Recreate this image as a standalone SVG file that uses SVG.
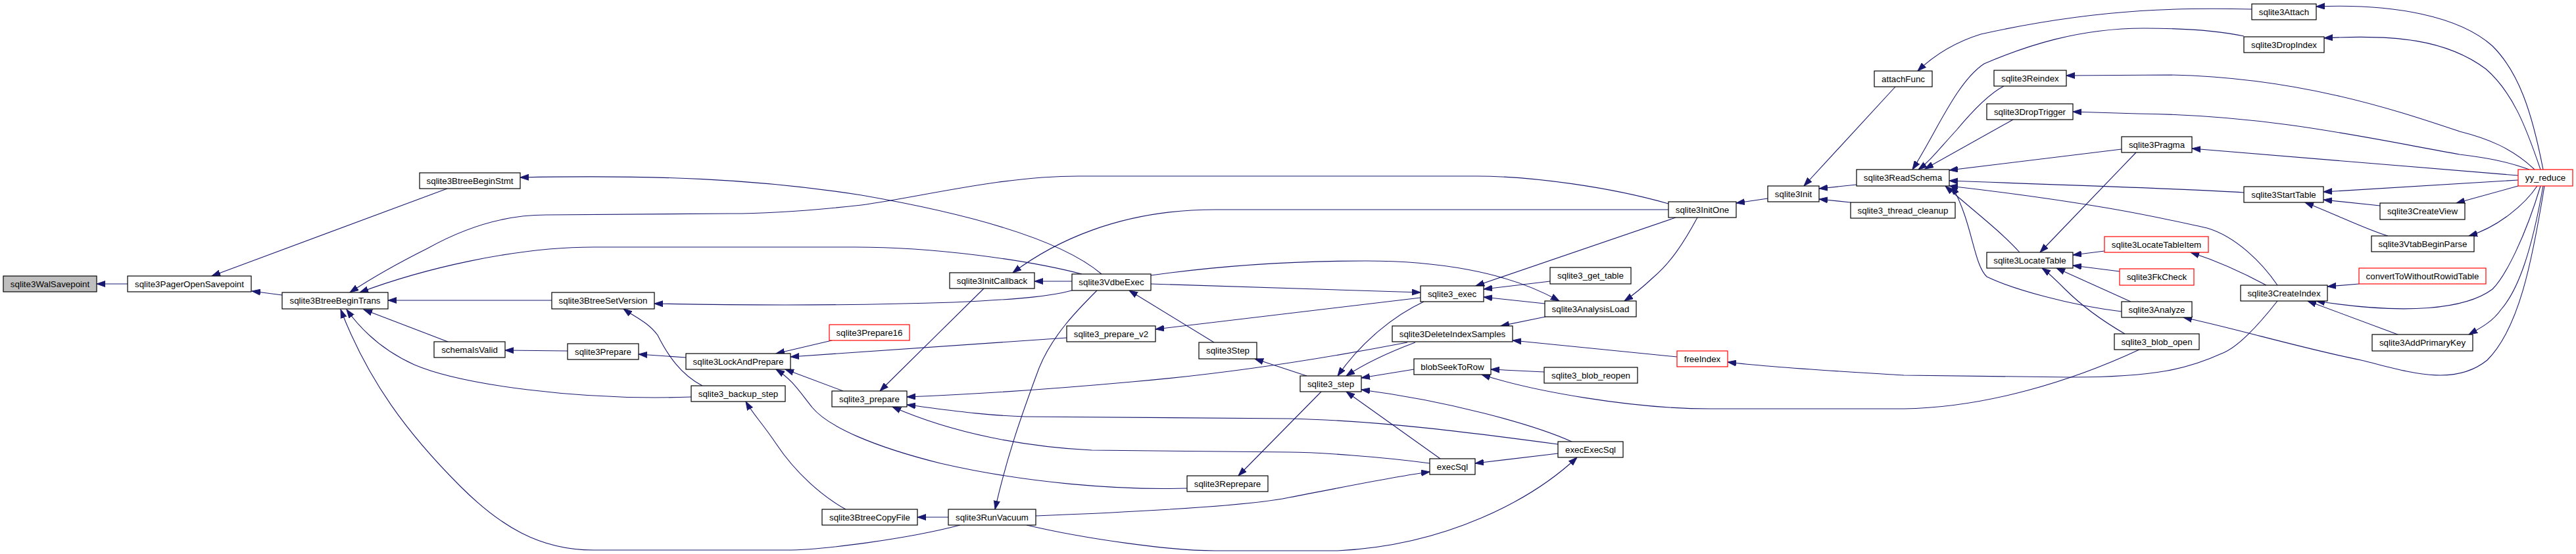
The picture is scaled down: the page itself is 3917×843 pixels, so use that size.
<svg xmlns="http://www.w3.org/2000/svg" width="3917" height="843" viewBox="0 0 3917 843">
<style>
.n rect{fill:#ffffff;stroke:#000000;stroke-width:1.2}
.n.r rect{stroke:#ff0000}
.n.g rect{fill:#bfbfbf}
.n text{font-family:"Liberation Sans",Arial,Helvetica,sans-serif;font-size:13.33px;text-anchor:middle;fill:#000000}
.e path{fill:none;stroke:#191970;stroke-width:1.1;marker-end:url(#arr)}
</style>
<defs>
<marker id="arr" markerUnits="userSpaceOnUse" markerWidth="14" markerHeight="10" refX="13" refY="5" orient="auto">
<path d="M0,0.5 L13,5 L0,9.5 z" fill="#191970" stroke="#191970" stroke-width="1"/>
</marker>
</defs>
<rect width="3917" height="843" fill="#ffffff"/>
<g id="edges" class="e">
<path d="M194,432 L147,432"/>
<path d="M429,449 L383,443"/>
<path d="M680,287 L322,420"/>
<path d="M839,457 L590,457"/>
<path d="M681,520 L553,471"/>
<path d="M1051,604 C880,610 700,585 630,555 C590,537 555,510 527,471"/>
<path d="M1460,799 C1380,820 1250,837 1197,837 L902,837 C820,837 760,800 700,740 C620,660 560,580 518,471"/>
<path d="M1675,417 C1620,370 1500,330 1310,297 C1150,272 1000,266 791,270"/>
<path d="M2537,310 C2450,285 2330,268 2245,268 L1640,268 C1520,268 1400,300 1310,312 C1220,322 1150,325 1110,325 L830,327 C760,327 700,350 650,378 C610,398 570,420 532,445"/>
<path d="M1645,417 C1560,395 1420,376 1300,376 L903,376 C780,376 640,410 547,445"/>
<path d="M2537,319 L1847,319 C1700,319 1600,370 1540,415"/>
<path d="M1750,419 C1850,405 1960,397 2076,397 C2180,397 2290,412 2371,458"/>
<path d="M2548,331 L2244,435"/>
<path d="M2581,331 C2560,370 2540,400 2514,422 C2500,435 2485,448 2470,458"/>
<path d="M1750,432 L2160,445"/>
<path d="M2357,428 L2256,440"/>
<path d="M2349,462 L2256,452"/>
<path d="M2160,453 L1757,501"/>
<path d="M2165,459 C2120,480 2070,520 2034,572"/>
<path d="M2152,521 C2120,533 2080,550 2047,572"/>
<path d="M2140,521 C2000,548 1850,570 1721,581 C1600,592 1480,600 1379,604"/>
<path d="M1987,572 L1908,546"/>
<path d="M2150,562 L2070,575"/>
<path d="M2348,566 L2267,562"/>
<path d="M3253,532 C3150,580 3020,620 2895,622 L2600,622 C2480,622 2330,595 2253,570"/>
<path d="M2550,543 L2300,518"/>
<path d="M2350,482 L2282,496"/>
<path d="M2390,672 C2330,645 2200,610 2070,593"/>
<path d="M2190,698 L2047,596"/>
<path d="M2369,690 L2243,705"/>
<path d="M2369,676 C2250,660 2100,640 1960,637 L1560,634 C1490,632 1430,622 1379,616"/>
<path d="M2174,705 C2100,695 2000,688 1960,688 L1660,685 C1560,680 1450,660 1357,619"/>
<path d="M1575,785 C1700,780 1900,770 1960,757 C2050,740 2120,725 2174,718"/>
<path d="M1561,799 C1650,820 1780,838 1847,838 L2034,838 C2200,830 2330,760 2398,696"/>
<path d="M2009,596 L1883,724"/>
<path d="M1805,743 C1700,746 1560,735 1430,705 C1330,680 1260,650 1235,620 C1215,595 1205,578 1180,562"/>
<path d="M1282,595 L1194,562"/>
<path d="M1265,518 L1180,538"/>
<path d="M1622,514 L1202,543"/>
<path d="M1043,544 L971,539"/>
<path d="M863,534 L768,533"/>
<path d="M1630,442 C1600,450 1560,455 1450,460 C1300,465 1150,465 995,462"/>
<path d="M1068,587 C1035,570 1015,540 1000,510 C985,490 965,482 948,470"/>
<path d="M1286,775 C1250,755 1210,720 1180,675 C1160,645 1145,630 1134,611"/>
<path d="M1442,787 L1395,787"/>
<path d="M1668,442 C1640,470 1600,510 1580,560 C1550,640 1530,700 1513,775"/>
<path d="M1630,428 L1573,428"/>
<path d="M1496,439 L1338,595"/>
<path d="M1846,521 L1717,442"/>
<path d="M2688,302 L2640,309"/>
<path d="M2823,281 L2766,287"/>
<path d="M2814,308 L2766,303"/>
<path d="M2882,132 L2743,283"/>
<path d="M3424,14 C3335,12 3200,10 3012,52 C2970,65 2940,85 2916,108"/>
<path d="M3412,55 C3370,46 3320,43 3260,43 C3160,43 3080,70 3017,97 C2975,125 2945,200 2908,258"/>
<path d="M3047,131 C3020,145 2990,180 2975,198 C2950,225 2935,245 2917,258"/>
<path d="M3061,182 L2927,257"/>
<path d="M3226,227 L2964,259"/>
<path d="M3412,293 C3340,288 3260,286 2964,275"/>
<path d="M3463,434 C3440,400 3400,360 3356,347 C3300,335 3200,310 2964,283"/>
<path d="M3071,384 C3040,350 3000,320 2958,283"/>
<path d="M3226,474 C3150,465 3060,440 3021,421 C3000,400 3000,340 2968,283"/>
<path d="M3248,232 L3102,384"/>
<path d="M3200,382 L3152,388"/>
<path d="M3223,413 L3152,404"/>
<path d="M3240,459 L3127,408"/>
<path d="M3231,508 C3200,490 3170,470 3140,440 C3125,425 3115,415 3105,408"/>
<path d="M3867,258 C3850,170 3830,110 3790,70 C3740,25 3640,5 3522,10"/>
<path d="M3863,258 C3840,190 3820,140 3780,105 C3720,60 3640,52 3534,58"/>
<path d="M3854,258 C3820,225 3780,210 3740,200 C3650,170 3500,118 3300,114 L3142,115"/>
<path d="M3846,258 C3810,245 3780,240 3740,235 C3600,210 3450,175 3250,173 L3152,170"/>
<path d="M3829,267 L3333,226"/>
<path d="M3829,274 L3533,292"/>
<path d="M3619,313 L3533,304"/>
<path d="M3631,359 C3600,350 3560,330 3505,308"/>
<path d="M3829,283 L3735,309"/>
<path d="M3858,283 C3840,310 3800,345 3754,359"/>
<path d="M3587,432 L3539,436"/>
<path d="M3863,283 C3840,360 3810,420 3790,440 C3750,470 3660,480 3522,458"/>
<path d="M3646,509 L3509,458"/>
<path d="M3867,283 C3850,380 3830,440 3803,471 C3790,490 3770,500 3754,509"/>
<path d="M3869,283 C3850,400 3830,500 3782,548 C3730,590 3660,565 3590,548 C3500,530 3400,500 3320,483"/>
<path d="M3463,458 C3430,500 3400,530 3378,538 C3330,560 3280,574 3148,574 L2895,571 C2800,565 2700,560 2627,551"/>
<path d="M3446,434 C3420,420 3380,400 3331,384"/>
</g>
<g id="n1" class="n g"><rect x="5" y="420" width="142" height="24"/><text x="76" y="437">sqlite3WalSavepoint</text></g>
<g id="n2" class="n"><rect x="194" y="420" width="188" height="24"/><text x="288" y="437">sqlite3PagerOpenSavepoint</text></g>
<g id="n3" class="n"><rect x="638" y="263" width="153" height="24"/><text x="714.5" y="280">sqlite3BtreeBeginStmt</text></g>
<g id="n4" class="n"><rect x="429" y="445" width="161" height="25"/><text x="509.5" y="462">sqlite3BtreeBeginTrans</text></g>
<g id="n5" class="n"><rect x="839" y="445" width="156" height="25"/><text x="917" y="462">sqlite3BtreeSetVersion</text></g>
<g id="n6" class="n"><rect x="660" y="520" width="108" height="24"/><text x="714" y="537">schemaIsValid</text></g>
<g id="n7" class="n"><rect x="863" y="523" width="108" height="24"/><text x="917" y="540">sqlite3Prepare</text></g>
<g id="n8" class="n"><rect x="1043" y="538" width="159" height="24"/><text x="1122.5" y="555">sqlite3LockAndPrepare</text></g>
<g id="n9" class="n"><rect x="1051" y="587" width="143" height="24"/><text x="1122.5" y="604">sqlite3_backup_step</text></g>
<g id="n10" class="n r"><rect x="1261" y="494" width="122" height="24"/><text x="1322" y="511">sqlite3Prepare16</text></g>
<g id="n11" class="n"><rect x="1265" y="595" width="114" height="24"/><text x="1322" y="612">sqlite3_prepare</text></g>
<g id="n12" class="n"><rect x="1250" y="775" width="145" height="24"/><text x="1322.5" y="792">sqlite3BtreeCopyFile</text></g>
<g id="n13" class="n"><rect x="1444" y="415" width="129" height="24"/><text x="1508.5" y="432">sqlite3InitCallback</text></g>
<g id="n14" class="n"><rect x="1630" y="417" width="120" height="25"/><text x="1690" y="434">sqlite3VdbeExec</text></g>
<g id="n15" class="n"><rect x="1622" y="496" width="135" height="24"/><text x="1689.5" y="513">sqlite3_prepare_v2</text></g>
<g id="n16" class="n"><rect x="1823" y="521" width="88" height="25"/><text x="1867" y="538">sqlite3Step</text></g>
<g id="n17" class="n"><rect x="1805" y="724" width="123" height="24"/><text x="1866.5" y="741">sqlite3Reprepare</text></g>
<g id="n18" class="n"><rect x="1442" y="775" width="133" height="24"/><text x="1508.5" y="792">sqlite3RunVacuum</text></g>
<g id="n19" class="n"><rect x="2537" y="307" width="103" height="24"/><text x="2588.5" y="324">sqlite3InitOne</text></g>
<g id="n20" class="n"><rect x="2357" y="407" width="123" height="25"/><text x="2418.5" y="424">sqlite3_get_table</text></g>
<g id="n21" class="n"><rect x="2160" y="435" width="96" height="24"/><text x="2208" y="452">sqlite3_exec</text></g>
<g id="n22" class="n"><rect x="2349" y="458" width="139" height="24"/><text x="2418.5" y="475">sqlite3AnalysisLoad</text></g>
<g id="n23" class="n"><rect x="2117" y="496" width="183" height="24"/><text x="2208.5" y="513">sqlite3DeleteIndexSamples</text></g>
<g id="n24" class="n"><rect x="2150" y="546" width="117" height="24"/><text x="2208.5" y="563">blobSeekToRow</text></g>
<g id="n25" class="n"><rect x="2348" y="559" width="142" height="24"/><text x="2419" y="576">sqlite3_blob_reopen</text></g>
<g id="n26" class="n r"><rect x="2550" y="534" width="77" height="24"/><text x="2588.5" y="551">freeIndex</text></g>
<g id="n27" class="n"><rect x="1977" y="572" width="93" height="24"/><text x="2023.5" y="589">sqlite3_step</text></g>
<g id="n28" class="n"><rect x="2369" y="672" width="99" height="24"/><text x="2418.5" y="689">execExecSql</text></g>
<g id="n29" class="n"><rect x="2174" y="698" width="69" height="24"/><text x="2208.5" y="715">execSql</text></g>
<g id="n30" class="n"><rect x="2850" y="108" width="88" height="24"/><text x="2894" y="125">attachFunc</text></g>
<g id="n31" class="n"><rect x="3032" y="107" width="110" height="24"/><text x="3087" y="124">sqlite3Reindex</text></g>
<g id="n32" class="n"><rect x="3021" y="158" width="131" height="24"/><text x="3086.5" y="175">sqlite3DropTrigger</text></g>
<g id="n33" class="n"><rect x="2823" y="258" width="141" height="25"/><text x="2893.5" y="275">sqlite3ReadSchema</text></g>
<g id="n34" class="n"><rect x="2688" y="283" width="78" height="24"/><text x="2727" y="300">sqlite3Init</text></g>
<g id="n35" class="n"><rect x="2814" y="308" width="159" height="24"/><text x="2893.5" y="325">sqlite3_thread_cleanup</text></g>
<g id="n36" class="n"><rect x="3021" y="384" width="131" height="24"/><text x="3086.5" y="401">sqlite3LocateTable</text></g>
<g id="n37" class="n"><rect x="3226" y="208" width="107" height="24"/><text x="3279.5" y="225">sqlite3Pragma</text></g>
<g id="n38" class="n r"><rect x="3200" y="360" width="158" height="24"/><text x="3279" y="377">sqlite3LocateTableItem</text></g>
<g id="n39" class="n r"><rect x="3223" y="409" width="113" height="25"/><text x="3279.5" y="426">sqlite3FkCheck</text></g>
<g id="n40" class="n"><rect x="3226" y="459" width="107" height="24"/><text x="3279.5" y="476">sqlite3Analyze</text></g>
<g id="n41" class="n"><rect x="3215" y="508" width="129" height="24"/><text x="3279.5" y="525">sqlite3_blob_open</text></g>
<g id="n42" class="n"><rect x="3424" y="6" width="98" height="24"/><text x="3473" y="23">sqlite3Attach</text></g>
<g id="n43" class="n"><rect x="3412" y="56" width="122" height="24"/><text x="3473" y="73">sqlite3DropIndex</text></g>
<g id="n44" class="n r"><rect x="3829" y="258" width="83" height="25"/><text x="3870.5" y="275">yy_reduce</text></g>
<g id="n45" class="n"><rect x="3412" y="284" width="121" height="24"/><text x="3472.5" y="301">sqlite3StartTable</text></g>
<g id="n46" class="n"><rect x="3619" y="309" width="129" height="25"/><text x="3683.5" y="326">sqlite3CreateView</text></g>
<g id="n47" class="n"><rect x="3606" y="359" width="156" height="24"/><text x="3684" y="376">sqlite3VtabBeginParse</text></g>
<g id="n48" class="n r"><rect x="3587" y="408" width="193" height="24"/><text x="3683.5" y="425">convertToWithoutRowidTable</text></g>
<g id="n49" class="n"><rect x="3407" y="434" width="132" height="24"/><text x="3473" y="451">sqlite3CreateIndex</text></g>
<g id="n50" class="n"><rect x="3607" y="509" width="153" height="25"/><text x="3683.5" y="526">sqlite3AddPrimaryKey</text></g>
</svg>
